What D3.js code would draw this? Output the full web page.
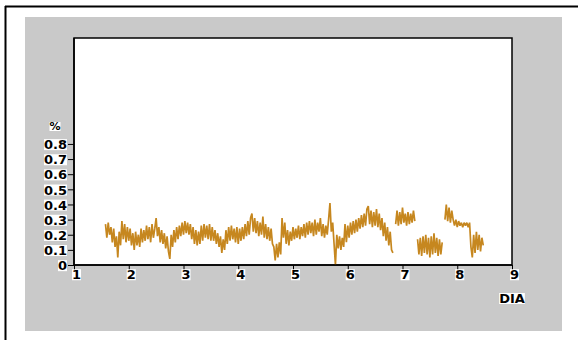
<!DOCTYPE html>
<html>
<head>
<meta charset="utf-8">
<script src="https://cdn.jsdelivr.net/npm/d3@7"></script>
<style>
  html, body { margin: 0; padding: 0; background: #fff; }
  svg { display: block; }
  .lbl { font-family: "DejaVu Sans", "Liberation Sans", Arial, sans-serif; font-weight: bold; font-size: 13px; fill: #000; }
</style>
</head>
<body>
<div id="chart"></div>
<script>
// sampling of the DIA axis
const startDia = 1.575;
const stepDia = 0.025;

// % values, null = no reading
const pctValues = [
  // 1.575 - 2.05
  0.27, 0.18, 0.28, 0.2, 0.25, 0.15, 0.24, 0.12, 0.19, 0.05, 0.22, 0.13, 0.29, 0.17, 0.27, 0.15, 0.25, 0.16, 0.24, 0.13,
  // 2.075 - 2.55
  0.21, 0.1, 0.22, 0.13, 0.2, 0.12, 0.24, 0.15, 0.23, 0.16, 0.26, 0.17, 0.25, 0.15, 0.27, 0.18, 0.24, 0.31, 0.19, 0.25,
  // 2.575 - 3.05
  0.15, 0.23, 0.14, 0.21, 0.11, 0.19, 0.09, 0.04, 0.2, 0.12, 0.23, 0.15, 0.25, 0.17, 0.26, 0.19, 0.28, 0.2, 0.29, 0.21,
  // 3.075 - 3.55
  0.28, 0.2, 0.27, 0.17, 0.25, 0.14, 0.23, 0.13, 0.22, 0.14, 0.26, 0.16, 0.27, 0.18, 0.26, 0.17, 0.27, 0.16, 0.25, 0.16,
  // 3.575 - 4.05
  0.23, 0.14, 0.21, 0.12, 0.19, 0.08, 0.17, 0.1, 0.23, 0.14, 0.25, 0.16, 0.26, 0.17, 0.24, 0.15, 0.25, 0.14, 0.24, 0.16,
  // 4.075 - 4.55
  0.25, 0.17, 0.27, 0.19, 0.29, 0.2, 0.31, 0.34, 0.22, 0.31, 0.21, 0.29, 0.19, 0.28, 0.2, 0.32, 0.18, 0.27, 0.17, 0.25,
  // 4.575 - 5.05
  0.16, 0.24, 0.14, 0.12, 0.03, 0.14, 0.05, 0.15, 0.07, 0.31, 0.18, 0.28, 0.14, 0.23, 0.13, 0.22, 0.16, 0.25, 0.17, 0.24,
  // 5.075 - 5.55
  0.18, 0.26, 0.17, 0.25, 0.19, 0.27, 0.18, 0.28, 0.2, 0.29, 0.21, 0.28, 0.19, 0.3, 0.2, 0.28, 0.22, 0.31, 0.19, 0.27,
  // 5.575 - 6.05
  0.18, 0.26, 0.2, 0.3, 0.41, 0.22, 0.28, 0.14, 0.0, 0.2, 0.11, 0.19, 0.1, 0.18, 0.12, 0.27, 0.15, 0.26, 0.18, 0.28,
  // 6.075 - 6.55
  0.2, 0.29, 0.21, 0.3, 0.22, 0.31, 0.24, 0.33, 0.25, 0.34, 0.26, 0.37, 0.39, 0.27, 0.36, 0.25, 0.35, 0.26, 0.37, 0.25,
  // 6.575 - 6.825
  0.34, 0.23, 0.31, 0.19, 0.28, 0.16, 0.25, 0.13, 0.22, 0.1, 0.08,
  null,
  // 6.875 - 7.225
  0.27, 0.36, 0.26, 0.35, 0.27, 0.38, 0.28, 0.34, 0.26, 0.35, 0.27, 0.34, 0.28, 0.36, 0.29,
  null,
  // 7.275 - 7.725
  0.17, 0.07, 0.18, 0.06, 0.19, 0.08, 0.2, 0.07, 0.18, 0.05, 0.19, 0.07, 0.21, 0.08, 0.18, 0.06, 0.17, 0.07, 0.15,
  null,
  // 7.775 - 8.475
  0.3, 0.4, 0.29, 0.38, 0.28, 0.36, 0.3, 0.26, 0.3, 0.25, 0.29, 0.26, 0.28, 0.25, 0.28, 0.26, 0.28, 0.25, 0.28,
  0.12, 0.05, 0.2, 0.08, 0.22, 0.1, 0.2, 0.09, 0.18, 0.13
];

const xTicks = [1, 2, 3, 4, 5, 6, 7, 8, 9];
const yTicks = [0, 0.1, 0.2, 0.3, 0.4, 0.5, 0.6, 0.7, 0.8];

const W = 578, H = 340;
const plot = { left: 74, right: 512, top: 38, bottom: 265 };

const svg = d3.select('#chart').append('svg')
  .attr('width', W)
  .attr('height', H);

// outer frame (top + left edges visible)
svg.append('rect').attr('x', 0).attr('y', 0).attr('width', W).attr('height', H).attr('fill', '#fff');
svg.append('line').attr('x1', 5).attr('x2', W).attr('y1', 6.5).attr('y2', 6.5).attr('stroke', '#000').attr('stroke-width', 2);
svg.append('line').attr('x1', 5.5).attr('x2', 5.5).attr('y1', 6).attr('y2', H).attr('stroke', '#000').attr('stroke-width', 2);

// grey panel
svg.append('rect')
  .attr('x', 25).attr('y', 17)
  .attr('width', 562 - 25).attr('height', 331 - 17)
  .attr('fill', '#c9c9c9');

// plot area
svg.append('rect')
  .attr('x', plot.left).attr('y', plot.top)
  .attr('width', plot.right - plot.left).attr('height', plot.bottom - plot.top)
  .attr('fill', '#fff')
  .attr('stroke', '#000')
  .attr('stroke-width', 1.5);

const x = d3.scaleLinear().domain([1, 9]).range([plot.left, plot.right]);
const y = d3.scaleLinear().domain([0, 1.5]).range([plot.bottom, plot.top]);

const data = pctValues.map((v, i) => ({ dia: startDia + i * stepDia, pct: v }));

// series
const line = d3.line()
  .defined(d => d.pct !== null)
  .x(d => x(d.dia))
  .y(d => y(d.pct));

svg.append('path')
  .datum(data)
  .attr('d', line)
  .attr('fill', 'none')
  .attr('stroke', '#c6871f')
  .attr('stroke-width', 1.7)
  .attr('stroke-linejoin', 'bevel');

// axes
const xAxis = svg.append('g')
  .attr('transform', `translate(0,${plot.bottom})`)
  .call(d3.axisBottom(x).tickValues(xTicks).tickSize(5).tickFormat(d3.format('d')));

const yAxis = svg.append('g')
  .attr('transform', `translate(${plot.left},0)`)
  .call(d3.axisLeft(y).tickValues(yTicks).tickSize(6).tickPadding(1)
    .tickFormat(d => d === 0 ? '0' : d3.format('.1f')(d)));

[xAxis, yAxis].forEach(g => {
  g.select('.domain').attr('stroke', '#000').attr('stroke-width', 1.5);
  g.selectAll('.tick line').attr('stroke', '#000');
  g.selectAll('.tick text').attr('class', 'lbl').attr('fill', '#000');
});
yAxis.select('.domain').attr('d', `M0,${plot.bottom}V${plot.top}`);
xAxis.select('.domain').attr('d', `M${plot.left},0H${plot.right}`);
xAxis.selectAll('.tick text').attr('y', 5).attr('dx', 2);
yAxis.selectAll('.tick text').attr('dy', '0.36em');

// axis titles
svg.append('text').attr('class', 'lbl').attr('x', 55).attr('y', 130).attr('text-anchor', 'middle').style('font-size', '11px').text('%');
svg.append('text').attr('class', 'lbl').attr('x', 512).attr('y', 303).attr('text-anchor', 'middle').text('DIA');

// white boxes behind every label
svg.selectAll('text.lbl').each(function () {
  const b = this.getBBox();
  d3.select(this.parentNode).insert('rect', () => this)
    .attr('x', b.x).attr('y', b.y + 2)
    .attr('width', b.width).attr('height', b.height - 4)
    .attr('fill', '#fff');
});
</script>
</body>
</html>
